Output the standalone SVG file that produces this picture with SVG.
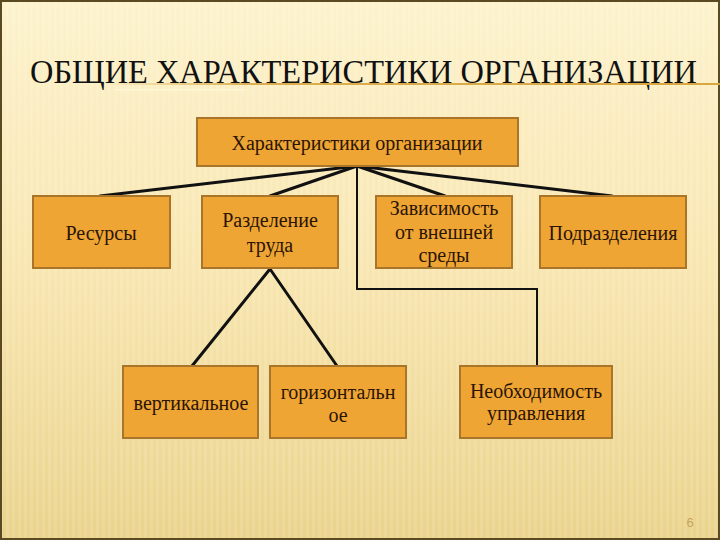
<svg xmlns="http://www.w3.org/2000/svg" width="720" height="540" viewBox="0 0 720 540">
<defs>
<linearGradient id="bg" x1="0" y1="0" x2="0" y2="1">
<stop offset="0" stop-color="#fdf2cc"/>
<stop offset="0.5" stop-color="#f8e6b0"/>
<stop offset="1" stop-color="#ead38c"/>
</linearGradient>
<linearGradient id="ul" x1="0" y1="0" x2="1" y2="0">
<stop offset="0" stop-color="#d9a640" stop-opacity="0"/>
<stop offset="0.25" stop-color="#d9a640" stop-opacity="0.9"/>
<stop offset="1" stop-color="#d9a640"/>
</linearGradient>
<pattern id="stripes" width="6" height="540" patternUnits="userSpaceOnUse">
<rect x="0" y="0" width="3" height="540" fill="#ffffff" opacity="0.12"/>
</pattern>
</defs>
<style>
.box{fill:#efa534;stroke:#a8752b;stroke-width:2}
.t{font-family:"Liberation Serif","Times New Roman",serif;font-size:20px;fill:#2a1406;text-anchor:middle}
.c{fill:none;stroke:#111;stroke-width:3;stroke-linecap:round}
.c2{fill:none;stroke:#111;stroke-width:2}
</style>
<rect x="0" y="0" width="720" height="540" fill="url(#bg)"/>
<rect x="0" y="0" width="720" height="540" fill="url(#stripes)"/>
<rect x="1" y="1" width="718" height="538" fill="none" stroke="#5a4a22" stroke-width="2"/>
<text x="30" y="83" font-family="Liberation Serif,'Times New Roman',serif" font-size="33" fill="#111" textLength="667" lengthAdjust="spacingAndGlyphs">ОБЩИЕ ХАРАКТЕРИСТИКИ ОРГАНИЗАЦИИ</text>
<rect x="100" y="83" width="620" height="2" fill="url(#ul)"/>
<rect x="115" y="89" width="130" height="1.5" fill="#fff6d8" opacity="0.8"/>
<g id="connectors">
<line class="c" x1="357" y1="166" x2="100" y2="196"/>
<line class="c" x1="357" y1="166" x2="270" y2="196"/>
<line class="c" x1="357" y1="166" x2="445" y2="196"/>
<line class="c" x1="357" y1="166" x2="612" y2="196"/>
<polyline class="c2" points="357,166 357,289 537,289 537,366"/>
<line class="c" x1="270" y1="269" x2="192" y2="366"/>
<line class="c" x1="270" y1="269" x2="337" y2="366"/>
</g>
<g id="root">
<rect class="box" x="197" y="118" width="321" height="48"/>
<text class="t" x="357" y="150">Характеристики организации</text>
</g>
<g id="resources">
<rect class="box" x="33" y="196" width="137" height="72"/>
<text class="t" x="101" y="240">Ресурсы</text>
</g>
<g id="division">
<rect class="box" x="202" y="196" width="136" height="72"/>
<text class="t" x="270" y="227">Разделение</text>
<text class="t" x="270" y="252">труда</text>
</g>
<g id="dependence">
<rect class="box" x="376" y="196" width="136" height="72"/>
<text class="t" x="444" y="215">Зависимость</text>
<text class="t" x="444" y="239">от внешней</text>
<text class="t" x="444" y="262">среды</text>
</g>
<g id="subdivisions">
<rect class="box" x="540" y="196" width="146" height="72"/>
<text class="t" x="613" y="240">Подразделения</text>
</g>
<g id="vertical">
<rect class="box" x="123" y="366" width="135" height="72"/>
<text class="t" x="191" y="410">вертикальное</text>
</g>
<g id="horizontal">
<rect class="box" x="270" y="366" width="136" height="72"/>
<text class="t" x="338" y="399">горизонтальн</text>
<text class="t" x="338" y="422">ое</text>
</g>
<g id="management">
<rect class="box" x="460" y="366" width="152" height="72"/>
<text class="t" x="536" y="398">Необходимость</text>
<text class="t" x="536" y="420">управления</text>
</g>
<text x="690" y="527" font-family="Liberation Sans,Arial,sans-serif" font-size="13" fill="#c9a458" text-anchor="middle">6</text>
</svg>
